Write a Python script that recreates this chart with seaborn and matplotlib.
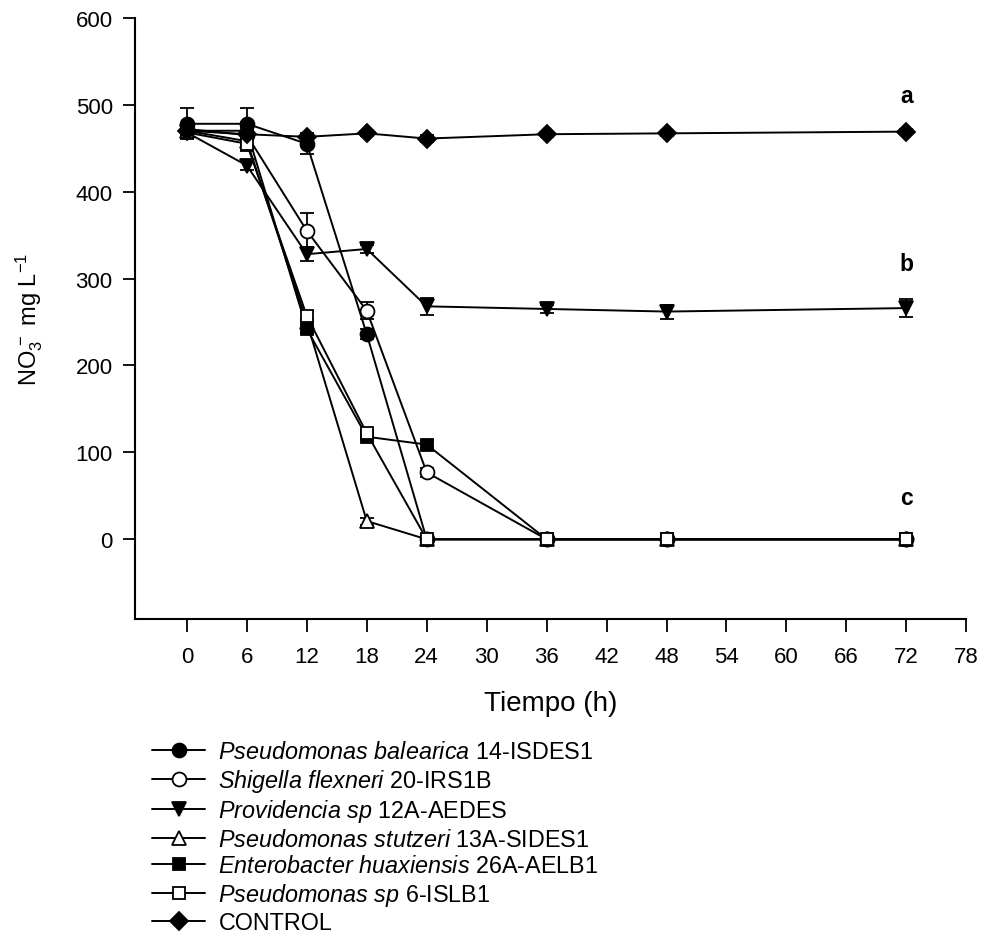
import numpy as np
import pandas as pd
import matplotlib
matplotlib.use("Agg")
import matplotlib.pyplot as plt
import seaborn as sns

# Sampling times (h)
tiempo = [0, 6, 12, 18, 24, 36, 48, 72]

# NO3- concentration (mg/L) per strain
balearica = [478, 478, 455, 236, 0, 0, 0, 0]
shigella = [472, 465, 355, 263, 77, 0, 0, 0]
providencia = [468, 430, 328, 334, 268, 265, 262, 266]
stutzeri = [470, 458, 250, 21, 0, 0, 0, 0]
enterobacter = [470, 470, 242, 118, 109, 0, 0, 0]
pseudomonas_sp = [468, 455, 257, 122, 0, 0, 0, 0]
control = [470, 466, 463, 467, 461, 466, 467, 469]

# error bars (sd)
err_balearica = [18, 18, 12, 6, 0, 0, 0, 0]
err_shigella = [5, 5, 20, 10, 5, 0, 0, 0]
err_providencia = [5, 5, 8, 5, 10, 5, 8, 10]
err_stutzeri = [4, 4, 4, 4, 0, 0, 0, 0]
err_enterobacter = [4, 10, 5, 4, 4, 0, 0, 0]
err_pseudomonas_sp = [4, 8, 6, 4, 0, 0, 0, 0]
err_control = [3, 3, 3, 3, 4, 3, 3, 3]

labels = [
    r"$\it{Pseudomonas\ balearica}$ 14-ISDES1",
    r"$\it{Shigella\ flexneri}$ 20-IRS1B",
    r"$\it{Providencia\ sp}$ 12A-AEDES",
    r"$\it{Pseudomonas\ stutzeri}$ 13A-SIDES1",
    r"$\it{Enterobacter\ huaxiensis}$ 26A-AELB1",
    r"$\it{Pseudomonas\ sp}$ 6-ISLB1",
    "CONTROL",
]
series = [balearica, shigella, providencia, stutzeri, enterobacter, pseudomonas_sp, control]
errors = [err_balearica, err_shigella, err_providencia, err_stutzeri,
          err_enterobacter, err_pseudomonas_sp, err_control]
markers = ["o", "o", "v", "^", "s", "s", "D"]
filled = [True, False, True, False, True, False, True]
msizes = [10, 10, 10, 10, 9, 9, 9]

letters = ["a", "b", "c"]
letter_y = [510, 317, 48]

sns.set_theme(style="ticks")
plt.rcParams["font.family"] = ["Liberation Sans", "DejaVu Sans"]
plt.rcParams["mathtext.fontset"] = "custom"
plt.rcParams["mathtext.rm"] = "Liberation Sans"
plt.rcParams["mathtext.it"] = "Liberation Sans:italic"
plt.rcParams["text.color"] = "black"
plt.rcParams["axes.labelcolor"] = "black"

fig = plt.figure(figsize=(9.85, 9.37), dpi=100)
ax = fig.add_axes([0.137, 0.338, 0.844, 0.642])

handles = []
for vals, err, mk, fl, ms, lab in zip(series, errors, markers, filled, msizes, labels):
    df = pd.DataFrame({"t": tiempo, "y": vals})
    ax.errorbar(tiempo, vals, yerr=err, fmt="none", ecolor="black",
                elinewidth=1.3, capsize=5, capthick=1.3, zorder=2)
    sns.lineplot(data=df, x="t", y="y", ax=ax, color="black", linewidth=1.4,
                 marker=mk, markersize=ms,
                 markerfacecolor="black" if fl else "white",
                 markeredgecolor="black", markeredgewidth=1.3, zorder=3)
    handles.append(plt.Line2D([], [], color="black", linewidth=1.4, marker=mk,
                              markersize=ms, markerfacecolor="black" if fl else "white",
                              markeredgecolor="black", markeredgewidth=1.3, label=lab))

for lt, ly in zip(letters, letter_y):
    ax.text(72, ly, lt, ha="center", va="center", fontsize=16.5, fontweight="bold")

ax.set_xlim(-5.2, 78)
ax.set_ylim(-92, 600)
ax.set_xticks(np.arange(0, 79, 6))
ax.set_yticks(np.arange(0, 601, 100))
ax.tick_params(axis="both", direction="out", length=9, width=1.3,
               colors="black", labelsize=16)
ax.tick_params(axis="x", pad=10)
ax.tick_params(axis="y", pad=7)
sns.despine(ax=ax)
for sp in ["left", "bottom"]:
    ax.spines[sp].set_linewidth(1.5)
    ax.spines[sp].set_color("black")

ax.set_xlabel("Tiempo (h)", fontsize=20, labelpad=17)
ax.set_ylabel(r"NO$_3^{\,-}$ mg L$^{-1}$", fontsize=17, labelpad=22)

fig.legend(handles=handles, loc="upper left", bbox_to_anchor=(0.154, 0.209),
           frameon=False, fontsize=16.8, handlelength=2.3, labelspacing=0.15,
           handletextpad=0.56, borderpad=0, borderaxespad=0)

fig.savefig("out.png", dpi=100)
